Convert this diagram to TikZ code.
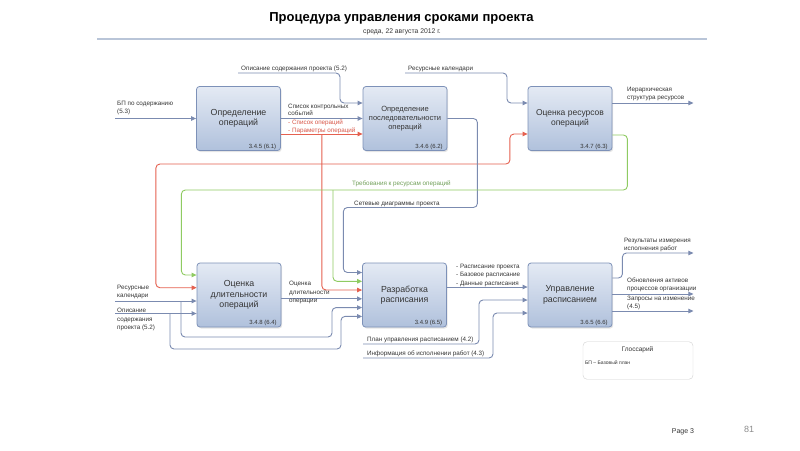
\documentclass[tikz,border=0pt]{standalone}
\usepackage{fontspec}
\setmainfont{Liberation Sans}
\usepackage{xcolor}
\usetikzlibrary{arrows.meta, positioning, calc, shadows}

\definecolor{flowblue}{HTML}{7B8BB0}
\definecolor{flowred}{HTML}{E5604F}
\definecolor{flowgreen}{HTML}{8FCB62}
\definecolor{redtxt}{HTML}{D9584A}
\definecolor{greentxt}{HTML}{72A05A}
\definecolor{txtgray}{HTML}{353535}
\definecolor{boxtop}{HTML}{E4EAF4}
\definecolor{boxbot}{HTML}{B0C1DC}
\definecolor{boxline}{HTML}{7D91B8}
\definecolor{barblue}{HTML}{B9C5D8}

\begin{document}
\begin{tikzpicture}[x=1pt, y=-1pt,
    proc/.style={rectangle, rounded corners=3pt, draw=boxline, line width=0.8pt,
        top color=boxtop, bottom color=boxbot, minimum width=84pt, minimum height=64pt,
        align=center, text=txtgray, font=\fontsize{8.8}{10.3}\selectfont,
        drop shadow={opacity=0.2, shadow xshift=1.2pt, shadow yshift=-1.5pt}},
    code/.style={anchor=base east, inner sep=0pt, text=txtgray, font=\fontsize{6}{7}\selectfont},
    lbl/.style={anchor=base west, inner sep=0pt, align=left, text=txtgray,
        font=\fontsize{6.3}{8.3}\selectfont},
    flow/.style={draw=flowblue, line width=0.9pt, rounded corners=4pt,
        -{Triangle[length=5pt, width=4.5pt]}},
    redflow/.style={flow, draw=flowred},
    greenflow/.style={flow, draw=flowgreen}]
    \useasboundingbox (0,0) rectangle (800,450);
    \fill[white] (0,0) rectangle (800,450);

    % heading
    \node[font=\bfseries\fontsize{13}{15}\selectfont, text=black] (title) at (401.5,18)
        {Процедура управления сроками проекта};
    \node[font=\fontsize{6.8}{8}\selectfont, text=txtgray] (date) at (402,31.5)
        {среда, 22 августа 2012 г.};
    \draw[barblue, line width=2.5pt] (97,39) -- (707,39);

    % processes
    \node[proc] (actdef) at (238.5,118.5) {Определение\\операций};
    \node[proc, font=\fontsize{7.5}{9}\selectfont] (actseq) at (405,118.5)
        {Определение\\последовательности\\операций};
    \node[proc, font=\fontsize{8.5}{10}\selectfont] (actres) at (570,118.5)
        {Оценка ресурсов\\операций};
    \node[proc] (actdur) at (239,295) {Оценка\\длительности\\операций};
    \node[proc] (schdev) at (404.5,295) {Разработка\\расписания};
    \node[proc] (schctl) at (570,295) {Управление\\расписанием};

    \node[code] (actdefno) at ([xshift=-4.5pt, yshift=2.7pt]actdef.south east) {3.4.5 (6.1)};
    \node[code] (actseqno) at ([xshift=-4.5pt, yshift=2.7pt]actseq.south east) {3.4.6 (6.2)};
    \node[code] (actresno) at ([xshift=-4.5pt, yshift=2.7pt]actres.south east) {3.4.7 (6.3)};
    \node[code] (actdurno) at ([xshift=-4.5pt, yshift=2.7pt]actdur.south east) {3.4.8 (6.4)};
    \node[code] (schdevno) at ([xshift=-4.5pt, yshift=2.7pt]schdev.south east) {3.4.9 (6.5)};
    \node[code] (schctlno) at ([xshift=-4.5pt, yshift=2.7pt]schctl.south east) {3.6.5 (6.6)};

    % upper row
    \coordinate (bpin) at (115,118.5);
    \draw[flow] (bpin) -- (actdef.west);
    \coordinate (scopein) at (238,73);
    \draw[flow] (scopein) -- ++(102,0) |- ([yshift=15.5pt]actseq.west);
    \draw[flow] (actdef.east) -- (actseq.west);
    \draw[redflow] ([yshift=-15.5pt]actdef.east) -- ([yshift=-15.5pt]actseq.west);
    \coordinate (redsplit) at ([xshift=41pt, yshift=-15.5pt]actdef.east);
    \coordinate (redhub) at ([yshift=-30pt]redsplit);
    \draw[redflow] (redsplit) |- ([yshift=5pt]schdev.west);
    \draw[redflow] (redhub) -- ++(-166,0) |- ([yshift=7.3pt]actdur.west);
    \draw[redflow] (redhub) -- ++(188,0) |- ([yshift=-15.5pt]actres.west);
    \draw[flow] (actseq.east) -- ++(30,0) |- ++(-134,89) |- ([yshift=22.5pt]schdev.west);
    \coordinate (rescalin) at (405,73);
    \draw[flow] (rescalin) -- ++(102,0) |- ([yshift=15.5pt]actres.west);
    \draw[flow] ([yshift=15.5pt]actres.east) -- ++(81,0);
    \draw[greenflow] ([yshift=-16.5pt]actres.east) -- ++(15,0) -- ++(0,55) -- ++(-446,0)
        |- ([yshift=20pt]actdur.west);
    \coordinate (greenhub) at (333,190);
    \draw[greenflow] (greenhub) |- ([yshift=13.7pt]schdev.west);

    % lower row
    \coordinate (rescal2) at (115,301);
    \draw[flow] (rescal2) -- (rescal2 -| actdur.west);
    \draw[flow] ([xshift=66pt]rescal2) |- ++(151,36) |- ([yshift=-12.6pt]schdev.west);
    \coordinate (scope2) at (115,313.5);
    \draw[flow] (scope2) -- (scope2 -| actdur.west);
    \draw[flow] ([xshift=55pt]scope2) |- ++(171,35.5) |- ([yshift=-21.4pt]schdev.west);
    \draw[flow] ([yshift=-3.8pt]actdur.east) -- ([yshift=-3.8pt]schdev.west);
    \draw[flow] ([yshift=8pt]schdev.east) -- ([yshift=8pt]schctl.west);
    \coordinate (planin) at (363,344);
    \draw[flow] (planin) -- ++(116,0) |- ([yshift=-5pt]schctl.west);
    \coordinate (perfin) at (363,358);
    \draw[flow] (perfin) -- ++(130,0) |- ([yshift=-18pt]schctl.west);
    \draw[flow] ([yshift=17pt]schctl.east) -- ++(10,0) |- ++(71,-25);
    \draw[flow] ([yshift=1pt]schctl.east) -- ++(81,0);
    \draw[flow] ([yshift=-16pt]schctl.east) -- ++(81,0);

    % labels (base = last line)
    \node[lbl] (bplbl) at (117,113.7) {БП по содержанию\\(5.3)};
    \node[lbl] (scopelbl) at (241,70.7) {Описание содержания проекта (5.2)};
    \node[lbl, font=\fontsize{6.3}{7}\selectfont] (mslbl) at (288,115.5) {Список контрольных\\событий};
    \node[lbl, text=redtxt, font=\fontsize{6.3}{7.8}\selectfont] (actlbl) at (288,132.7)
        {- Список операций\\- Параметры операций};
    \node[lbl] (netlbl) at (354,205) {Сетевые диаграммы проекта};
    \node[lbl] (rescallbl) at (408,70) {Ресурсные календари};
    \node[lbl] (rbslbl) at (627,99.4) {Иерархическая\\структура ресурсов};
    \node[lbl, text=greentxt] (reqlbl) at (352,185) {Требования к ресурсам операций};
    \node[lbl] (rescal2lbl) at (117,297.7) {Ресурсные\\календари};
    \node[lbl] (scope2lbl) at (117,329.4) {Описание\\содержания\\проекта (5.2)};
    \node[lbl] (durlbl) at (289,302.4) {Оценка\\длительности\\операции};
    \node[lbl] (schlbl) at (456,285) {- Расписание проекта\\- Базовое расписание\\- Данные расписания};
    \node[lbl] (planlbl) at (367,341.7) {План управления расписанием (4.2)};
    \node[lbl] (perflbl) at (367,355) {Информация об исполнении работ (4.3)};
    \node[lbl] (measlbl) at (624,250.7) {Результаты измерения\\исполнения работ};
    \node[lbl] (opalbl) at (627,290.7) {Обновления активов\\процессов организации};
    \node[lbl] (chglbl) at (627,308.4) {Запросы на изменение\\(4.5)};

    % glossary and footer
    \node[draw=black!18, rounded corners=4pt, minimum width=110pt, minimum height=37.5pt]
        (gloss) at (638,360.5) {};
    \node[font=\fontsize{6.5}{8}\selectfont, text=txtgray] (glosshead) at (637.5,349.3) {Глоссарий};
    \node[lbl, font=\fontsize{5}{6}\selectfont] (glossbp) at (585,364.5) {БП – Базовый план};
    \node[font=\fontsize{7}{8}\selectfont, text=txtgray] (page) at (683,432) {Page 3};
    \node[font=\fontsize{9}{10}\selectfont, text=black!45] (slideno) at (749,429.3) {81};
\end{tikzpicture}
\end{document}
